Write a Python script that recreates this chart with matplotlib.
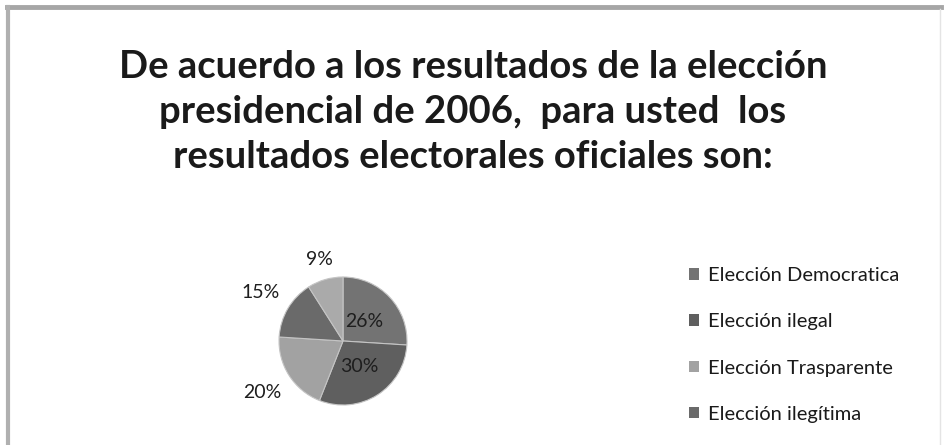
import numpy as np
import matplotlib.pyplot as plt
from matplotlib.patches import Patch
from matplotlib.lines import Line2D

plt.rcParams['font.family'] = ['Lato', 'DejaVu Sans']

# datos de la encuesta
titulo = "De acuerdo a los resultados de la elección\npresidencial de 2006,  para usted  los\nresultados electorales oficiales son:"
categorias = ["Elección Democratica", "Elección ilegal", "Elección Trasparente", "Elección ilegítima"]
porcentajes = [26, 30, 20, 15, 9]
colores = ['#737373', '#5f5f5f', '#a2a2a2', '#6a6a6a', '#aaaaaa']
# distancia radial de cada etiqueta
dist_etiq = [0.45, 0.47, 1.5, 1.5, 1.32]

W, H = 946, 445
fig = plt.figure(figsize=(W / 100, H / 100), dpi=100)
fig.patch.set_facecolor('white')

# marco del grafico
fig.add_artist(Line2D([7 / W, 941 / W], [1 - 7 / H, 1 - 7 / H], color='#a6a6a6', lw=3.5))
fig.add_artist(Line2D([8 / W, 8 / W], [0, 1 - 7 / H], color='#b0b0b0', lw=3))
fig.add_artist(Line2D([940 / W, 940 / W], [0, 1 - 9 / H], color='#e4e4e4', lw=1))

fig.text(0.5, 1 - 112 / H, titulo, ha='center', va='center', fontsize=27.5,
         fontweight='bold', color='#1a1a1a', linespacing=1.38)

cx, cy, r = 343, 341, 64
ax = fig.add_axes([(cx - r) / W, (H - cy - r) / H, 2 * r / W, 2 * r / H])
wedges, _ = ax.pie(porcentajes, colors=colores, startangle=90, counterclock=False,
                   wedgeprops=dict(edgecolor='#c4c4c4', linewidth=0.8))
ax.set_xlim(-1, 1)
ax.set_ylim(-1, 1)
ax.axis('off')

for w, p, d in zip(wedges, porcentajes, dist_etiq):
    ang = np.deg2rad((w.theta1 + w.theta2) / 2)
    ax.text(d * np.cos(ang), d * np.sin(ang), f"{p}%", ha='center', va='center',
            fontsize=14, color='#1e1e1e')

handles = [Patch(facecolor=c, edgecolor='none') for c in colores[:len(categorias)]]
fig.legend(handles, categorias, loc='upper left', bbox_to_anchor=(671 / W, 1 - 249 / H),
           frameon=False, fontsize=14.5, handlelength=0.5, handleheight=0.5,
           handletextpad=0.45, labelspacing=1.45, labelcolor='#1a1a1a')

fig.savefig('out.png', dpi=100)
